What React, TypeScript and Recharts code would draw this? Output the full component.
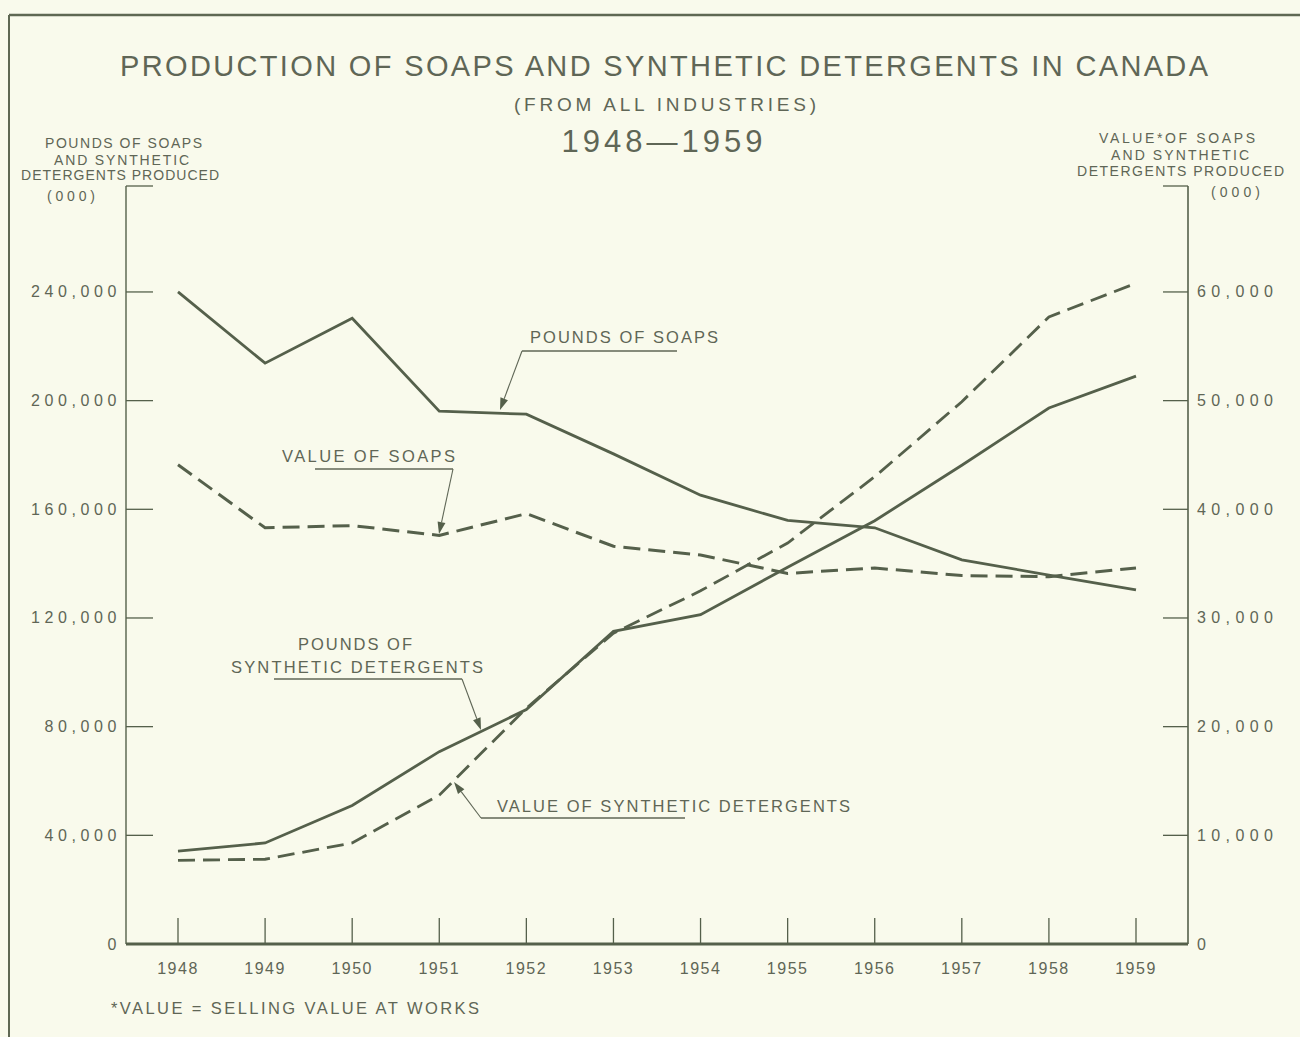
import React from 'react';
import { LineChart, Line, XAxis, YAxis } from 'recharts';

const years = [1948, 1949, 1950, 1951, 1952, 1953, 1954, 1955, 1956, 1957, 1958, 1959];
const poundsSoaps = [240000, 213800, 230300, 196100, 195000, 180400, 165200, 155900, 153200, 141400, 135800, 130300];
const poundsDetergents = [34200, 37200, 51000, 70800, 86300, 115100, 121200, 138700, 155800, 176200, 197300, 209000];
const valueSoaps = [44100, 38300, 38500, 37600, 39600, 36600, 35800, 34100, 34600, 33900, 33800, 34600];
const valueDetergents = [7700, 7800, 9300, 13700, 21700, 28600, 32500, 36900, 43000, 49900, 57700, 60800];

const leftTicks = [0, 40000, 80000, 120000, 160000, 200000, 240000];
const rightTicks = [0, 10000, 20000, 30000, 40000, 50000, 60000];
const LEFT_MAX = 279000;
const RIGHT_MAX = 69750;

const data = years.map((year, i) => ({
  year: String(year),
  poundsSoaps: poundsSoaps[i],
  poundsDetergents: poundsDetergents[i],
  valueSoaps: valueSoaps[i],
  valueDetergents: valueDetergents[i],
}));

const BG = '#f9faec';
const INK = '#55604b';
const TEXT = '#5f6656';
const FONT = '"Liberation Sans", Arial, sans-serif';

const fmt = (v: number) => v.toLocaleString('en-US');

const LeftTick = (props: any) => {
  const { x, y, payload } = props;
  if (payload.value === LEFT_MAX) return <g />;
  return (
    <text x={x} y={y} textAnchor="end" dominantBaseline="central" fill={TEXT}
      fontFamily={FONT} fontSize={16} letterSpacing={4.6}>{fmt(payload.value)}</text>
  );
};

const RightTick = (props: any) => {
  const { x, y, payload } = props;
  if (payload.value === RIGHT_MAX) return <g />;
  return (
    <text x={x} y={y} textAnchor="start" dominantBaseline="central" fill={TEXT}
      fontFamily={FONT} fontSize={16} letterSpacing={5.4}>{fmt(payload.value)}</text>
  );
};

const BottomTick = (props: any) => {
  const { x, y, payload } = props;
  return (
    <text x={x} y={y} textAnchor="middle" dy="0.71em" fill={TEXT}
      fontFamily={FONT} fontSize={16} letterSpacing={1.5}>{String(payload.value)}</text>
  );
};

const Callout = ({ x1, y1, x2, y2, tx, ty }: { x1: number; y1: number; x2: number; y2: number; tx: number; ty: number }) => {
  const dx = tx - x2;
  const dy = ty - y2;
  const len = Math.sqrt(dx * dx + dy * dy);
  const ux = dx / len;
  const uy = dy / len;
  const bx = tx - ux * 12;
  const by = ty - uy * 12;
  const px = -uy * 4;
  const py = ux * 4;
  return (
    <g>
      <line x1={x1} y1={y1} x2={x2} y2={y2} stroke={TEXT} strokeWidth={1.3} />
      <line x1={x2} y1={y2} x2={bx} y2={by} stroke={TEXT} strokeWidth={1.1} />
      <polygon points={`${tx},${ty} ${bx + px},${by + py} ${bx - px},${by - py}`} fill={INK} />
    </g>
  );
};

export default function App() {
  const t = { fill: TEXT, fontFamily: FONT, lengthAdjust: 'spacing' as const };
  return (
    <div style={{ position: 'absolute', left: 0, top: 0, width: 1300, height: 1037, background: BG, overflow: 'hidden' }}>
      <LineChart width={1300} height={1037} data={data}
        margin={{ top: 186, right: 0, bottom: 33, left: 0 }}>
        <XAxis dataKey="year" type="category" padding={{ left: 52, right: 52 }}
          height={60} tickSize={-26} tickMargin={45} interval={0}
          stroke={INK} axisLine={{ stroke: INK, strokeWidth: 2.8 }} tickLine={{ stroke: INK, strokeWidth: 1.3 }}
          tick={<BottomTick />} />
        <YAxis yAxisId="left" orientation="left" width={126} domain={[0, LEFT_MAX]} allowDataOverflow
          ticks={[...leftTicks, LEFT_MAX]} tickSize={-27} tickMargin={32}
          axisLine={{ stroke: INK, strokeWidth: 1.4 }} tickLine={{ stroke: INK, strokeWidth: 1.3 }}
          tick={<LeftTick />} interval={0} />
        <YAxis yAxisId="right" orientation="right" width={112} domain={[0, RIGHT_MAX]} allowDataOverflow
          ticks={[...rightTicks, RIGHT_MAX]} tickSize={-25} tickMargin={34}
          axisLine={{ stroke: INK, strokeWidth: 1.6 }} tickLine={{ stroke: INK, strokeWidth: 1.3 }}
          tick={<RightTick />} interval={0} />
        <Line yAxisId="left" dataKey="poundsSoaps" type="linear" stroke={INK} strokeWidth={2.8}
          dot={false} activeDot={false} isAnimationActive={false} />
        <Line yAxisId="left" dataKey="poundsDetergents" type="linear" stroke={INK} strokeWidth={2.8}
          dot={false} activeDot={false} isAnimationActive={false} />
        <Line yAxisId="right" dataKey="valueSoaps" type="linear" stroke={INK} strokeWidth={3}
          strokeDasharray="17 8" dot={false} activeDot={false} isAnimationActive={false} />
        <Line yAxisId="right" dataKey="valueDetergents" type="linear" stroke={INK} strokeWidth={2.8}
          strokeDasharray="17 8" dot={false} activeDot={false} isAnimationActive={false} />
      </LineChart>
      <svg width={1300} height={1037} style={{ position: 'absolute', left: 0, top: 0, pointerEvents: 'none' }}>
        <line x1={9} y1={15} x2={1300} y2={15} stroke="#5f6853" strokeWidth={2.5} />
        <line x1={9} y1={15} x2={9} y2={1037} stroke="#5f6853" strokeWidth={2} />

        <text {...t} x={664} y={76} textAnchor="middle" fontSize={29} textLength={1088}>PRODUCTION OF SOAPS AND SYNTHETIC DETERGENTS IN CANADA</text>
        <text {...t} x={665} y={111} textAnchor="middle" fontSize={19} textLength={302}>(FROM ALL INDUSTRIES)</text>
        <text {...t} x={662} y={152} textAnchor="middle" fontSize={31} textLength={201}>1948—1959</text>

        <text {...t} x={123.5} y={148} textAnchor="middle" fontSize={14} textLength={157}>POUNDS OF SOAPS</text>
        <text {...t} x={121.5} y={165} textAnchor="middle" fontSize={14} textLength={135}>AND SYNTHETIC</text>
        <text {...t} x={120} y={180} textAnchor="middle" fontSize={14} textLength={198}>DETERGENTS PRODUCED</text>
        <text {...t} x={71} y={201} textAnchor="middle" fontSize={14} textLength={48}>(000)</text>

        <text {...t} x={1177} y={143} textAnchor="middle" fontSize={14} textLength={156}>VALUE*OF SOAPS</text>
        <text {...t} x={1180} y={160} textAnchor="middle" fontSize={14} textLength={138}>AND SYNTHETIC</text>
        <text {...t} x={1180.5} y={176} textAnchor="middle" fontSize={14} textLength={207}>DETERGENTS PRODUCED</text>
        <text {...t} x={1235.5} y={197} textAnchor="middle" fontSize={14} textLength={49}>(000)</text>

        <text {...t} x={530} y={343} fontSize={16.5} textLength={188}>POUNDS OF SOAPS</text>
        <Callout x1={677} y1={351} x2={522} y2={351} tx={500} ty={410} />

        <text {...t} x={282} y={462} fontSize={16.5} textLength={173}>VALUE OF SOAPS</text>
        <Callout x1={315} y1={469} x2={453} y2={469} tx={439} ty={534} />

        <text {...t} x={355} y={650} textAnchor="middle" fontSize={16.5} textLength={114}>POUNDS OF</text>
        <text {...t} x={231} y={673} fontSize={16.5} textLength={252}>SYNTHETIC DETERGENTS</text>
        <Callout x1={274} y1={679} x2={462} y2={679} tx={481} ty={730} />

        <text {...t} x={497} y={812} fontSize={16.5} textLength={353}>VALUE OF SYNTHETIC DETERGENTS</text>
        <Callout x1={685} y1={818} x2={481} y2={818} tx={454} ty={782} />

        <text {...t} x={111} y={1014} fontSize={16.5} textLength={368}>*VALUE = SELLING VALUE AT WORKS</text>
      </svg>
    </div>
  );
}
